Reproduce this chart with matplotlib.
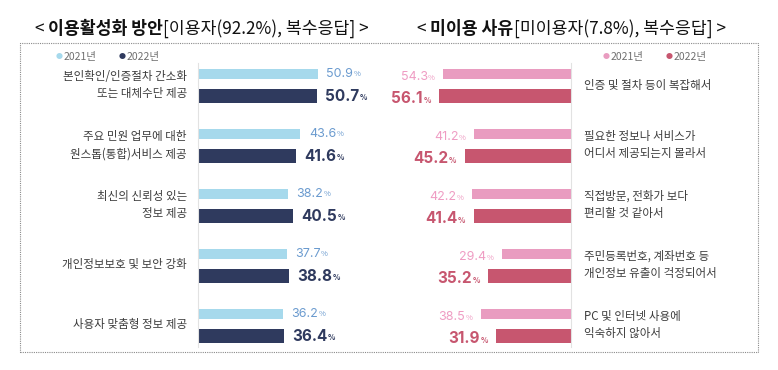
import matplotlib
matplotlib.use("Agg")
import matplotlib.pyplot as plt
from matplotlib.patches import Rectangle

plt.rcParams['font.family'] = ['Noto Sans CJK KR', 'DejaVu Sans']

# 데이터
left_cats = ["본인확인/인증절차 간소화\n또는 대체수단 제공",
             "주요 민원 업무에 대한\n원스톱(통합)서비스 제공",
             "최신의 신뢰성 있는\n정보 제공",
             "개인정보보호 및 보안 강화",
             "사용자 맞춤형 정보 제공"]
left_2021 = [50.9, 43.6, 38.2, 37.7, 36.2]
left_2022 = [50.7, 41.6, 40.5, 38.8, 36.4]

right_cats = ["인증 및 절차 등이 복잡해서",
              "필요한 정보나 서비스가\n어디서 제공되는지 몰라서",
              "직접방문, 전화가 보다\n편리할 것 같아서",
              "주민등록번호, 계좌번호 등\n개인정보 유출이 걱정되어서",
              "PC 및 인터넷 사용에\n익숙하지 않아서"]
right_2021 = [54.3, 41.2, 42.2, 29.4, 38.5]
right_2022 = [56.1, 45.2, 41.4, 35.2, 31.9]

years = ["2021년", "2022년"]

W, H = 778, 370
fig = plt.figure(figsize=(W / 100, H / 100), dpi=100)

def px(x0, y0, w, h):
    # 픽셀 좌표 -> figure 비율
    return [x0 / W, 1 - (y0 + h) / H, w / W, h / H]

# 점선 박스
fig.patches.append(Rectangle((20 / W, 1 - 352 / H), 738 / W, 309 / H,
                             transform=fig.transFigure, fill=False,
                             edgecolor="#8a8a8a", lw=0.8, ls=(0, (1, 1))))

xmax = 180 / 2.35
ax_l = fig.add_axes(px(198, 63, 180, 284))
ax_r = fig.add_axes(px(391, 63, 180, 284))

light_l, dark_l, lab_l = "#a6d9ec", "#2f3a5e", "#6b9bcf"
light_r, dark_r, lab_r = "#e99cc0", "#c7566f", "#ef9cc3"

pos = list(range(5))
off = 0.185

def draw(ax, cats, v1, v2, c1, c2, lc1, side):
    ax.barh([p - off for p in pos], v1, height=0.17, color=c1)
    ax.barh([p + off for p in pos], v2, height=0.235, color=c2)
    ax.set_ylim(4.367, -0.367)
    for s in ax.spines.values():
        s.set_visible(False)
    ax.set_xticks([])
    ax.set_yticks([])
    if side == "left":
        ax.set_xlim(0, xmax)
        ax.spines["left"].set_visible(True)
        ax.spines["left"].set_color("#e2e2e2")
        for p, c in zip(pos, cats):
            ax.annotate(c, xy=(0, p), xycoords=("axes fraction", "data"),
                        xytext=(-8, 0), textcoords="offset points",
                        ha="right", va="center", fontsize=8.3,
                        color="#3c3c3c", linespacing=1.45)
        for vals, dy, col, fs, fw in [(v1, -off, lc1, 9, "normal"),
                                      (v2, off, c2, 11, "bold")]:
            for p, v in zip(pos, vals):
                t = ax.annotate(f"{v:.1f}", xy=(v, p + dy), xytext=(6, 0),
                                textcoords="offset points", ha="left",
                                va="center", fontsize=fs, color=col,
                                fontweight=fw, family="Inter")
                ax.annotate("%", xy=(1, 0.12), xycoords=t, xytext=(0.4, 0),
                            textcoords="offset points", ha="left",
                            va="bottom", fontsize=5.5, color=col,
                            fontweight=fw)
    else:
        ax.set_xlim(xmax, 0)
        ax.spines["right"].set_visible(True)
        ax.spines["right"].set_color("#e2e2e2")
        for p, c in zip(pos, cats):
            ax.annotate(c, xy=(1, p), xycoords=("axes fraction", "data"),
                        xytext=(9, 0), textcoords="offset points",
                        ha="left", va="center", fontsize=8.3,
                        color="#3c3c3c", linespacing=1.45)
        for vals, dy, col, fs, fw in [(v1, -off, lc1, 9, "normal"),
                                      (v2, off, c2, 11, "bold")]:
            for p, v in zip(pos, vals):
                t = ax.annotate("%", xy=(v, p + dy), xytext=(-6, -3),
                                textcoords="offset points", ha="right",
                                va="center", fontsize=5.5, color=col,
                                fontweight=fw)
                ax.annotate(f"{v:.1f}", xy=(0, 0), xycoords=t,
                            xytext=(-0.4, -1), textcoords="offset points",
                            ha="right", va="bottom", fontsize=fs, color=col,
                            fontweight=fw, family="Inter")

draw(ax_l, left_cats, left_2021, left_2022, light_l, dark_l, lab_l, "left")
draw(ax_r, right_cats, right_2021, right_2022, light_r, dark_r, lab_r, "right")

# 범례
def legend(x1, x2, c1, c2):
    for x, c, lab in [(x1, c1, years[0]), (x2, c2, years[1])]:
        fig.text(x / W, 1 - 57 / H, "●", color=c, fontsize=5, va="center")
        fig.text((x + 8) / W, 1 - 57 / H, lab, color="#707070",
                 fontsize=7.5, va="center")

legend(56, 119, light_l, dark_l)
legend(603, 666, light_r, dark_r)

# 제목
def title(x, parts):
    last = fig.text(x / W, 1 - 29 / H, parts[0][0], fontsize=12.4,
                    fontweight=parts[0][1], va="center", color="#111111")
    for s, fw in parts[1:]:
        last = ax_l.annotate(s, xy=(1, 0.5), xycoords=last, va="center",
                             ha="left", fontsize=12.4, fontweight=fw,
                             color="#111111", annotation_clip=False)

title(35, [("< ", "normal"), ("이용활성화 방안", "bold"),
           ("[이용자(92.2%), 복수응답] >", "normal")])
title(417, [("< ", "normal"), ("미이용 사유", "bold"),
            ("[미이용자(7.8%), 복수응답] >", "normal")])

fig.savefig("out.png", dpi=100)
